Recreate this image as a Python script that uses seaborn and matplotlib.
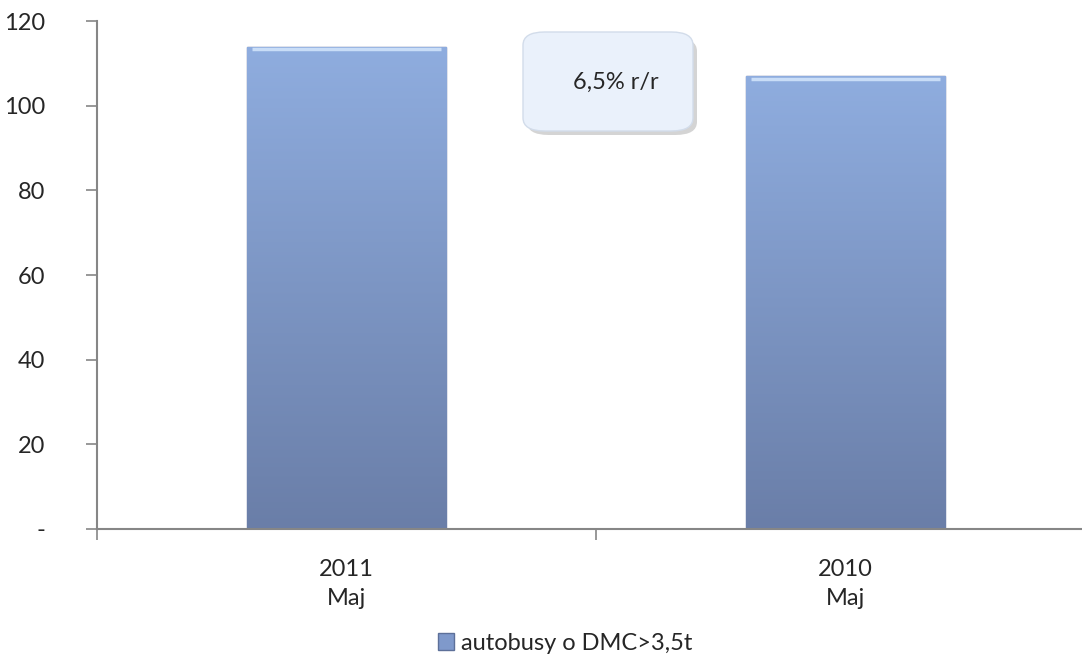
import numpy as np
import pandas as pd
import matplotlib.pyplot as plt
import seaborn as sns
from matplotlib.patches import FancyBboxPatch, Patch
from matplotlib.colors import LinearSegmentedColormap

# values
periods = ['2011\nMaj', '2010\nMaj']
values = [114, 107]
series_name = 'autobusy o DMC>3,5t'
change_label = '6,5% r/r'
ytick_values = [0, 20, 40, 60, 80, 100, 120]
ytick_labels = ['-', '20', '40', '60', '80', '100', '120']

sns.set_style('white')
plt.rcParams['font.family'] = ['Lato', 'DejaVu Sans']

W, H = 1082, 657
fig = plt.figure(figsize=(W / 100, H / 100), dpi=100)
ax = fig.add_axes([97 / W, (H - 528.7) / H, (W - 97) / W, (528.7 - 21.3) / H])

df = pd.DataFrame({'period': periods, 'value': values})
sns.barplot(data=df, x='period', y='value', ax=ax, width=0.40,
            color='#7F99CB', edgecolor='#5D7099', linewidth=1.0, saturation=1)

# vertical gradient on each bar
grad = LinearSegmentedColormap.from_list('bar', ['#6A7EA8', '#8FADDF'])
for p in ax.patches:
    x0, y0 = p.get_x(), p.get_y()
    w, h = p.get_width(), p.get_height()
    img = ax.imshow(np.linspace(0, 1, 256).reshape(-1, 1), cmap=grad, aspect='auto',
                    extent=[x0, x0 + w, y0, y0 + h], origin='lower', zorder=p.get_zorder() + 0.1)
    img.set_clip_path(p)
    ax.plot([x0 + 0.01, x0 + w - 0.01], [y0 + h - 0.6, y0 + h - 0.6],
            color='#C9DDF7', lw=2.5, zorder=p.get_zorder() + 0.2, solid_capstyle='butt')

ax.set_xlabel('')
ax.set_ylabel('')

ax.set_yticks(ytick_values)
ax.set_yticklabels(ytick_labels)
ax.set_xticks([-0.5, 0.5])
ax.set_xticklabels([])
ax.set_xticks([0, 1], minor=True)
ax.set_xticklabels(periods, minor=True, fontsize=17, linespacing=1.45)
ax.set_xlim(-0.5, -0.5 + (W - 97) / 499)
ax.set_ylim(0, 120)
ax.tick_params(axis='x', which='major', bottom=True, direction='out', length=8, width=1.2,
               color='#868686')
ax.tick_params(axis='x', which='minor', bottom=True, length=0, pad=22)
ax.tick_params(axis='y', left=True, direction='out', length=8, width=1.2, color='#868686',
               labelsize=17, pad=29)

for s in ['top', 'right']:
    ax.spines[s].set_visible(False)
for s in ['left', 'bottom']:
    ax.spines[s].set_color('#868686')
    ax.spines[s].set_linewidth(1.5)

# rounded label box
shadow = FancyBboxPatch((527 / W, (H - 135) / H), 170 / W, 97 / H,
                        boxstyle='round,pad=0,rounding_size=0.02', transform=fig.transFigure,
                        facecolor='#B8B8B8', edgecolor='none', alpha=0.6, zorder=5)
box = FancyBboxPatch((523 / W, (H - 131) / H), 170 / W, 99 / H,
                     boxstyle='round,pad=0,rounding_size=0.02', transform=fig.transFigure,
                     facecolor='#EAF1FB', edgecolor='#D2DCEA', linewidth=1, zorder=6)
fig.patches.extend([shadow, box])
fig.text(616 / W, (H - 82) / H, change_label, ha='center', va='center', fontsize=17, zorder=7)

handle = Patch(facecolor='#7F99CB', edgecolor='#5D7099')
fig.legend([handle], [series_name], loc='center', bbox_to_anchor=(565 / W, (H - 643) / H),
           frameon=False, fontsize=17, handlelength=0.7, handleheight=0.7, handletextpad=0.3)

fig.savefig('out.png', dpi=100)
